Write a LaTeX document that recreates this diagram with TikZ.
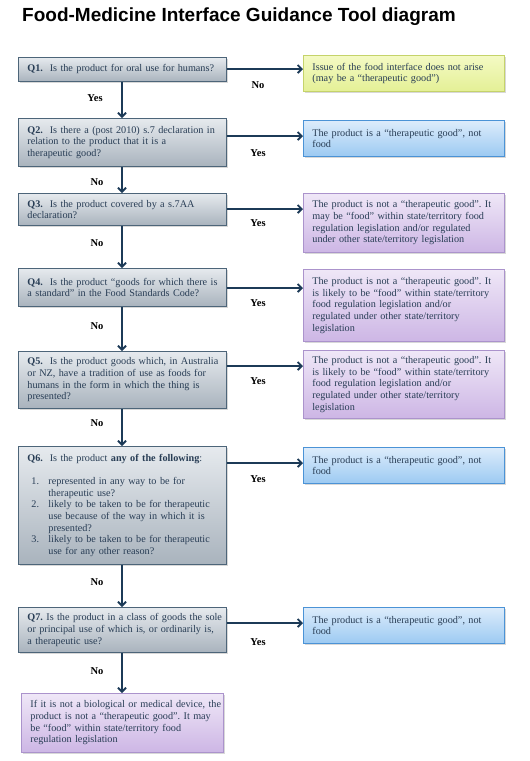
\documentclass[tikz,border=0pt]{standalone}
\usepackage{fontspec}
\setmainfont{Liberation Serif}
\newfontfamily\titlefont{Liberation Sans}
\usetikzlibrary{arrows.meta,shadows}
\frenchspacing
\hfuzz=20pt
\definecolor{qtop}{HTML}{E6EAEE}
\definecolor{qbot}{HTML}{A9B3BD}
\definecolor{qline}{HTML}{4D6579}
\definecolor{txt}{HTML}{283D55}
\definecolor{arrowc}{HTML}{1C3A57}
\definecolor{ytop}{HTML}{F4FAC4}
\definecolor{ybot}{HTML}{E4F096}
\definecolor{yline}{HTML}{C5D36A}
\definecolor{btop}{HTML}{DDECFB}
\definecolor{bbot}{HTML}{9CCAF2}
\definecolor{bline}{HTML}{4B93D6}
\definecolor{ptop}{HTML}{EFE7F7}
\definecolor{pbot}{HTML}{CDB6E5}
\definecolor{pline}{HTML}{AB93CC}
\tikzset{
  box/.style={anchor=north west, align=left, inner xsep=9pt, inner ysep=2pt,
    text=txt, font=\fontsize{10.2}{11.7}\selectfont, line width=0.8pt,
    drop shadow={shadow xshift=1.2pt, shadow yshift=-1.5pt, opacity=0.3}},
  qbox/.style={box, draw=qline, top color=qtop, bottom color=qbot,
    minimum width=208pt, text width=190pt},
  ybox/.style={box, draw=yline, top color=ytop, bottom color=ybot,
    minimum width=201pt, text width=183pt},
  bbox/.style={box, draw=bline, top color=btop, bottom color=bbot,
    minimum width=201pt, text width=183pt},
  pbox/.style={box, draw=pline, top color=ptop, bottom color=pbot,
    minimum width=201pt, text width=183pt},
  arr/.style={draw=arrowc, line width=1.8pt, -{Straight Barb[length=4pt,width=8pt]}},
  lbl/.style={font=\fontsize{10.5}{12}\selectfont\bfseries, fill=white, inner sep=2pt, text=black},
}
\newcommand{\lin}[1]{\mbox{#1}}
\newcommand{\itm}[2]{\mbox{\hspace*{4pt}\makebox[17pt][l]{#1}#2}}
\newcommand{\cnt}[1]{\mbox{\hspace*{21pt}#1}}
\begin{document}
\begin{tikzpicture}[x=1pt,y=-1pt]
\useasboundingbox[fill=white] (0,0) rectangle (530,761);
\node[anchor=base west, inner sep=0pt, font=\titlefont\bfseries\fontsize{19}{22}\selectfont] (title) at (22,21) {Food-Medicine Interface Guidance Tool diagram};

% questions
\node[qbox, minimum height=24pt] (q1) at (18,57) {\lin{\textbf{Q1.}\ \ Is the product for oral use for humans?}};
\node[qbox, minimum height=48pt] (q2) at (18,118) {\lin{\textbf{Q2.}\ \ Is there a (post 2010) s.7 declaration in}\\relation to the product that it is a\\therapeutic good?};
\node[qbox, minimum height=32pt] (q3) at (18,193) {\lin{\textbf{Q3.}\ \ Is the product covered by a s.7AA}\\declaration?};
\node[qbox, minimum height=38pt] (q4) at (18,268) {\lin{\textbf{Q4.}\ \ Is the product ``goods for which there is}\\\lin{a standard'' in the Food Standards Code?}};
\node[qbox, minimum height=57pt] (q5) at (18,351) {\lin{\textbf{Q5.}\ \ Is the product goods which, in Australia}\\\lin{or NZ, have a tradition of use as foods for}\\\lin{humans in the form in which the thing is}\\presented?};
\node[qbox, minimum height=118pt] (q6) at (18,446) {\lin{\textbf{Q6.}\ \ Is the product \textbf{any of the following}:}\\[11.7pt]
\itm{1.}{represented in any way to be for}\\\cnt{therapeutic use?}\\
\itm{2.}{likely to be taken to be for therapeutic}\\\cnt{use because of the way in which it is}\\\cnt{presented?}\\
\itm{3.}{likely to be taken to be for therapeutic}\\\cnt{use for any other reason?}};
\node[qbox, minimum height=45pt] (q7) at (18,607) {\lin{\textbf{Q7.} Is the product in a class of goods the sole}\\\lin{or principal use of which is, or ordinarily is,}\\a therapeutic use?};
\node[pbox, minimum width=202pt, text width=184pt, minimum height=59pt] (final) at (21,693) {\lin{If it is not a biological or medical device, the}\\\lin{product is not a ``therapeutic good''. It may}\\\lin{be ``food'' within state/territory food}\\regulation legislation};

% results
\node[ybox, minimum height=36pt] (r1) at (303,55) {\lin{Issue of the food interface does not arise}\\\lin{(may be a ``therapeutic good'')}};
\node[bbox, minimum height=36pt] (r2) at (303,120) {\lin{The product is a ``therapeutic good'', not}\\food};
\node[pbox, minimum height=59pt] (r3) at (303,193) {\lin{The product is not a ``therapeutic good''. It}\\\lin{may be ``food'' within state/territory food}\\\lin{regulation legislation and/or regulated}\\\lin{under other state/territory legislation}};
\node[pbox, minimum height=72pt] (r4) at (303,269) {\lin{The product is not a ``therapeutic good''. It}\\\lin{is likely to be ``food'' within state/territory}\\\lin{food regulation legislation and/or}\\\lin{regulated under other state/territory}\\legislation};
\node[pbox, minimum height=68pt] (r5) at (303,350) {\lin{The product is not a ``therapeutic good''. It}\\\lin{is likely to be ``food'' within state/territory}\\\lin{food regulation legislation and/or}\\\lin{regulated under other state/territory}\\legislation};
\node[bbox, minimum height=36pt] (r6) at (303,447) {\lin{The product is a ``therapeutic good'', not}\\food};
\node[bbox, minimum height=36pt] (r7) at (303,607) {\lin{The product is a ``therapeutic good'', not}\\food};

% vertical arrows
\draw[arr] (q1.south -| 122,0) -- (q2.north -| 122,0);
\draw[arr] (q2.south -| 122,0) -- (q3.north -| 122,0);
\draw[arr] (q3.south -| 122,0) -- (q4.north -| 122,0);
\draw[arr] (q4.south -| 122,0) -- (q5.north -| 122,0);
\draw[arr] (q5.south -| 122,0) -- (q6.north -| 122,0);
\draw[arr] (q6.south -| 122,0) -- (q7.north -| 122,0);
\draw[arr] (q7.south -| 122,0) -- (final.north -| 122,0);

% horizontal arrows
\draw[arr] (q1.east |- 0,69) -- (r1.west |- 0,69);
\draw[arr] (q2.east |- 0,136) -- (r2.west |- 0,136);
\draw[arr] (q3.east |- 0,209) -- (r3.west |- 0,209);
\draw[arr] (q4.east |- 0,288) -- (r4.west |- 0,288);
\draw[arr] (q5.east |- 0,366) -- (r5.west |- 0,366);
\draw[arr] (q6.east |- 0,463) -- (r6.west |- 0,463);
\draw[arr] (q7.east |- 0,623) -- (r7.west |- 0,623);

% labels
\node[lbl] (l1) at (258,85) {No};
\node[lbl] (l2) at (258,153) {Yes};
\node[lbl] (l3) at (258,223) {Yes};
\node[lbl] (l4) at (258,303) {Yes};
\node[lbl] (l5) at (258,381) {Yes};
\node[lbl] (l6) at (258,479) {Yes};
\node[lbl] (l7) at (258,642) {Yes};
\node[lbl] (v1) at (95,98) {Yes};
\node[lbl] (v2) at (97,182) {No};
\node[lbl] (v3) at (97,243) {No};
\node[lbl] (v4) at (97,326) {No};
\node[lbl] (v5) at (97,423) {No};
\node[lbl] (v6) at (97,582) {No};
\node[lbl] (v7) at (97,671) {No};
\end{tikzpicture}
\end{document}
